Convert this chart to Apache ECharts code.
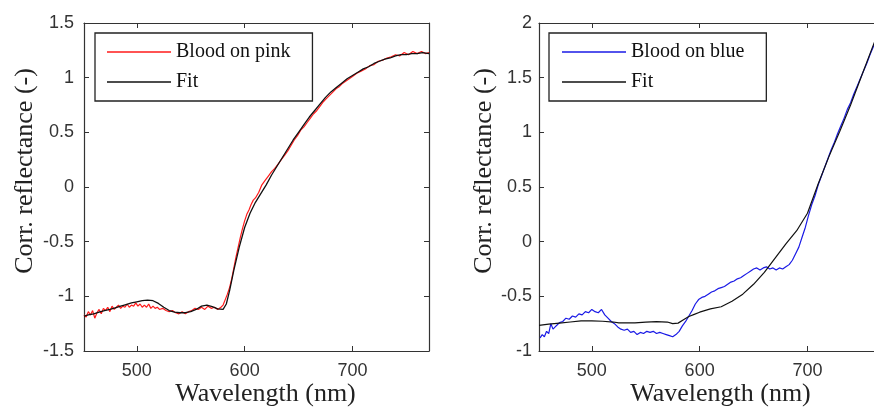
<!DOCTYPE html>
<html>
<head>
<meta charset="utf-8">
<script src="https://cdn.jsdelivr.net/npm/echarts@6/dist/echarts.min.js"></script>
<style>html,body{margin:0;padding:0;background:#fff;}#c{width:874px;height:407px;}</style>
</head>
<body>
<div id="c"></div>
<script>
// ---- data ----
const xTicks = [500, 600, 700];

const pinkWl = [451,453,455,457,459,461,463,465,467,469,471,473,475,477,479,481,483,485,487,489,491,493,495,497,499,501,503,505,507,509,511,513,515,517,519,521,524,527,530,533,536,539,542,545,548,551,554,557,560,563,566,569,572,575,578,580,582,584,586,588,590,592,594,596,598,600,602,604,606,608,610,613,616,619,622,625,628,631,634,637,640,643,646,649,652,655,658,661,664,667,670,673,676,679,682,685,688,691,694,697,700,704,708,712,716,720,724,728,732,736,740,744,748,752,756,760,764,768,771];
const pinkVal = [-1.17,-1.19,-1.14,-1.17,-1.13,-1.20,-1.15,-1.12,-1.16,-1.11,-1.13,-1.10,-1.14,-1.09,-1.12,-1.10,-1.08,-1.11,-1.09,-1.10,-1.07,-1.10,-1.08,-1.09,-1.06,-1.09,-1.07,-1.10,-1.08,-1.10,-1.07,-1.11,-1.09,-1.11,-1.10,-1.12,-1.11,-1.13,-1.14,-1.13,-1.15,-1.16,-1.14,-1.16,-1.14,-1.13,-1.11,-1.12,-1.10,-1.12,-1.09,-1.11,-1.10,-1.12,-1.10,-1.08,-1.03,-0.98,-0.92,-0.84,-0.74,-0.64,-0.55,-0.46,-0.38,-0.31,-0.25,-0.21,-0.16,-0.12,-0.10,-0.05,0.02,0.06,0.10,0.14,0.17,0.21,0.25,0.29,0.33,0.38,0.43,0.47,0.52,0.55,0.59,0.63,0.67,0.70,0.74,0.78,0.81,0.84,0.87,0.90,0.92,0.95,0.97,0.99,1.01,1.04,1.06,1.08,1.11,1.12,1.15,1.16,1.18,1.19,1.21,1.20,1.23,1.21,1.24,1.22,1.24,1.22,1.23];

const fitPinkWl = [451,455,460,465,470,475,480,485,490,495,500,505,510,515,520,525,530,535,540,545,550,555,560,565,570,575,580,583,586,590,595,600,605,610,615,620,625,630,635,640,645,650,655,660,665,670,675,680,685,690,695,700,705,710,715,720,725,730,735,740,745,750,755,760,765,771];
const fitPinkVal = [-1.18,-1.17,-1.16,-1.145,-1.13,-1.12,-1.105,-1.09,-1.075,-1.06,-1.05,-1.04,-1.035,-1.04,-1.065,-1.10,-1.13,-1.145,-1.15,-1.15,-1.14,-1.12,-1.09,-1.08,-1.095,-1.115,-1.12,-1.07,-0.95,-0.76,-0.55,-0.37,-0.24,-0.14,-0.06,0.02,0.11,0.19,0.27,0.35,0.43,0.50,0.57,0.64,0.70,0.76,0.82,0.87,0.91,0.95,0.99,1.02,1.05,1.08,1.10,1.13,1.15,1.17,1.18,1.20,1.21,1.21,1.22,1.22,1.23,1.22];

const blueWl = [452,454,456,458,460,462,464,466,468,470,473,476,479,482,485,488,491,494,497,500,503,506,509,512,515,518,521,524,527,530,533,536,539,542,545,548,551,554,557,560,563,566,569,572,575,578,581,584,587,590,593,596,599,602,605,608,611,614,617,620,623,626,629,632,635,638,641,644,647,650,653,656,659,662,665,668,671,674,677,680,683,686,689,692,695,698,701,704,707,710,713,716,719,722,725,728,731,734,737,740,743,746,749,752,755,758,761,764,767,770];
const blueVal = [-0.88,-0.85,-0.87,-0.82,-0.84,-0.75,-0.80,-0.78,-0.76,-0.74,-0.73,-0.70,-0.71,-0.68,-0.69,-0.66,-0.67,-0.64,-0.65,-0.62,-0.64,-0.65,-0.62,-0.67,-0.70,-0.73,-0.75,-0.78,-0.80,-0.81,-0.80,-0.83,-0.82,-0.85,-0.83,-0.84,-0.82,-0.83,-0.82,-0.84,-0.83,-0.84,-0.85,-0.86,-0.87,-0.85,-0.82,-0.77,-0.73,-0.68,-0.63,-0.57,-0.53,-0.51,-0.50,-0.48,-0.46,-0.45,-0.43,-0.42,-0.41,-0.39,-0.37,-0.36,-0.34,-0.33,-0.31,-0.29,-0.27,-0.25,-0.24,-0.26,-0.24,-0.23,-0.25,-0.24,-0.26,-0.24,-0.25,-0.23,-0.21,-0.17,-0.11,-0.05,0.04,0.13,0.24,0.34,0.42,0.52,0.60,0.68,0.76,0.84,0.91,0.99,1.06,1.13,1.21,1.27,1.35,1.42,1.49,1.56,1.63,1.71,1.78,1.86,1.93,2.00];

const fitBlueWl = [451,460,470,480,490,500,510,520,525,530,540,550,560,570,575,580,585,590,595,600,610,620,630,640,650,660,670,680,690,700,710,720,730,740,750,760,770];
const fitBlueVal = [-0.765,-0.755,-0.745,-0.735,-0.725,-0.725,-0.728,-0.735,-0.742,-0.742,-0.742,-0.735,-0.732,-0.735,-0.75,-0.745,-0.715,-0.685,-0.665,-0.645,-0.615,-0.595,-0.545,-0.48,-0.39,-0.28,-0.15,-0.02,0.10,0.26,0.53,0.78,1.01,1.25,1.51,1.77,2.02];

// ---- chart ----
const pair = (w, v) => w.map((x, i) => [x, v[i]]);
const SANS = "'Liberation Sans', Arial, sans-serif";
const SERIF = "'Liberation Serif', 'Times New Roman', serif";
const AX = '#333';

function xAxes(gi) {
  const base = {
    type: 'value', gridIndex: gi, min: 451, max: 771,
    axisLine: { show: true, onZero: false, lineStyle: { color: AX, width: 1.2 } },
    axisTick: { show: true, inside: true, length: 5, customValues: xTicks, lineStyle: { color: AX } },
    splitLine: { show: false }
  };
  return [
    Object.assign({}, base, {
      position: 'bottom',
      axisLabel: { show: true, customValues: xTicks, fontFamily: SANS, fontSize: 18, color: '#333', margin: 11 },
      name: 'Wavelength (nm)', nameLocation: 'middle', nameGap: 30, nameMoveOverlap: false,
      nameTextStyle: { fontFamily: SERIF, fontSize: 26, color: '#222', padding: [0, 0, 0, 18] }
    }),
    Object.assign({}, base, { position: 'top', axisLabel: { show: false } })
  ];
}
function yAxes(gi, mn, mx, lblMargin, nameGap) {
  const base = {
    type: 'value', gridIndex: gi, min: mn, max: mx, interval: 0.5,
    axisLine: { show: true, onZero: false, lineStyle: { color: AX, width: 1.2 } },
    axisTick: { show: true, inside: true, length: 5, lineStyle: { color: AX } },
    splitLine: { show: false }
  };
  return [
    Object.assign({}, base, {
      position: 'left',
      axisLabel: { show: true, fontFamily: SANS, fontSize: 18, color: '#333', margin: lblMargin },
      name: 'Corr. reflectance (-)', nameLocation: 'middle', nameGap: nameGap,
      nameTextStyle: { fontFamily: SERIF, fontSize: 26, color: '#222', padding: [0, 0, 0, 32] }
    }),
    Object.assign({}, base, { position: 'right', axisLabel: { show: false } })
  ];
}

const legendBase = {
  orient: 'vertical', icon: 'rect', itemWidth: 64, itemHeight: 1.5, itemGap: 8,
  borderColor: '#222', borderWidth: 1.3, backgroundColor: '#fff',
  selectedMode: false,
  textStyle: { fontFamily: SERIF, fontSize: 20, color: '#111', lineHeight: 22 }
};

const option = {
  animation: false,
  backgroundColor: '#fff',
  grid: [
    { left: 84, top: 23, width: 345, height: 328, containLabel: false, outerBoundsMode: 'none' },
    { left: 539, top: 23, width: 345, height: 328, containLabel: false, outerBoundsMode: 'none' }
  ],
  xAxis: [...xAxes(0), ...xAxes(1)],
  yAxis: [...yAxes(0, -1.5, 1.5, 10, 46), ...yAxes(1, -1, 2, 7, 42)],
  legend: [
    Object.assign({}, legendBase, { left: 95, top: 33, padding: [8, 22, 8, 12], data: ['Blood on pink', 'Fit'] }),
    Object.assign({}, legendBase, { left: 549, top: 33, padding: [8, 22, 8, 13], data: ['Blood on blue', 'Fit'] })
  ],
  series: [
    { name: 'Blood on pink', type: 'line', xAxisIndex: 0, yAxisIndex: 0, data: pair(pinkWl, pinkVal),
      showSymbol: false, symbol: 'none', lineStyle: { color: '#ff1a1a', width: 1.2 }, itemStyle: { color: '#ff1a1a' } },
    { name: 'Fit', type: 'line', xAxisIndex: 0, yAxisIndex: 0, data: pair(fitPinkWl, fitPinkVal),
      showSymbol: false, symbol: 'none', lineStyle: { color: '#111', width: 1.3 }, itemStyle: { color: '#111' } },
    { name: 'Blood on blue', type: 'line', xAxisIndex: 2, yAxisIndex: 2, data: pair(blueWl, blueVal),
      showSymbol: false, symbol: 'none', lineStyle: { color: '#1a1ae6', width: 1.2 }, itemStyle: { color: '#1a1ae6' } },
    { name: 'Fit', type: 'line', xAxisIndex: 2, yAxisIndex: 2, data: pair(fitBlueWl, fitBlueVal),
      showSymbol: false, symbol: 'none', lineStyle: { color: '#111', width: 1.2 }, itemStyle: { color: '#111' } }
  ]
};

const chart = echarts.init(document.getElementById('c'), null, { renderer: 'canvas' });
chart.setOption(option);
</script>
</body>
</html>
